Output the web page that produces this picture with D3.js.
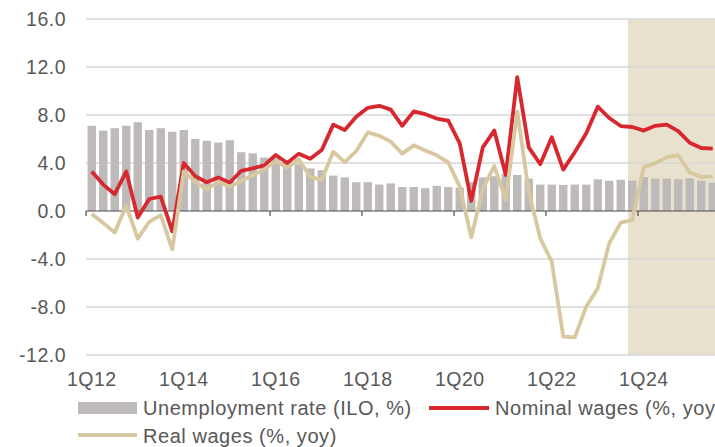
<!DOCTYPE html>
<html><head><meta charset="utf-8">
<script src="https://cdn.jsdelivr.net/npm/d3@7"></script>
<style>body{margin:0;background:#fff}svg{display:block;font-family:"Liberation Sans",Arial,sans-serif}</style>
</head><body><svg id="c" width="715" height="447"></svg>
<script>
const quarters = ["1Q12","2Q12","3Q12","4Q12","1Q13","2Q13","3Q13","4Q13","1Q14","2Q14","3Q14","4Q14",
"1Q15","2Q15","3Q15","4Q15","1Q16","2Q16","3Q16","4Q16","1Q17","2Q17","3Q17","4Q17",
"1Q18","2Q18","3Q18","4Q18","1Q19","2Q19","3Q19","4Q19","1Q20","2Q20","3Q20","4Q20",
"1Q21","2Q21","3Q21","4Q21","1Q22","2Q22","3Q22","4Q22","1Q23","2Q23","3Q23","4Q23",
"1Q24","2Q24","3Q24","4Q24","1Q25","2Q25","3Q25"];
const unemployment = [7.1,6.7,6.9,7.1,7.4,6.75,6.9,6.6,6.75,6.0,5.85,5.7,
5.9,4.9,4.8,4.45,4.4,4.1,3.9,3.55,3.4,2.95,2.8,2.4,
2.4,2.2,2.3,2.0,2.0,1.9,2.1,2.0,1.95,2.4,2.8,2.9,
3.1,3.0,2.7,2.2,2.2,2.17,2.2,2.2,2.64,2.52,2.6,2.53,
2.83,2.7,2.7,2.65,2.73,2.53,2.36];
const nominalWages = [3.3,2.2,1.4,3.3,-0.55,1.0,1.2,-1.7,4.0,2.9,2.4,2.8,
2.35,3.35,3.55,3.8,4.67,4.0,4.78,4.36,5.08,7.2,6.75,7.86,
8.6,8.77,8.45,7.1,8.3,8.07,7.7,7.53,5.64,0.85,5.3,6.7,
3.0,11.15,5.3,3.9,6.15,3.45,4.9,6.47,8.69,7.75,7.08,7.0,
6.7,7.1,7.2,6.65,5.69,5.25,5.2];
const realWages = [-0.25,-1.0,-1.8,0.45,-2.3,-0.9,-0.35,-3.2,3.3,2.44,1.8,2.44,
2.03,2.5,3.0,3.45,4.15,3.6,4.3,2.85,2.6,4.94,4.08,5.0,
6.55,6.27,5.78,4.78,5.47,5.05,4.64,4.05,2.03,-2.2,1.8,3.75,
0.95,8.28,1.6,-2.28,-4.22,-10.47,-10.53,-7.97,-6.44,-2.69,-0.97,-0.75,
3.67,3.97,4.48,4.64,3.2,2.83,2.91];
const tickLabels = ["1Q12","1Q14","1Q16","1Q18","1Q20","1Q22","1Q24"];
const yTicks = [16,12,8,4,0,-4,-8,-12];
const forecastStart = "4Q23";
const legendLabels = ["Unemployment rate (ILO, %)","Nominal wages (%, yoy)","Real wages (%, yoy)"];

const colBar = "#bfbaba", colRed = "#d7282f", colBeige = "#d7c8a0", colShade = "#e8e1cd",
      colGrid = "#d6d6d6", colText = "#585858";

const svg = d3.select("#c");
const x = d3.scaleBand().domain(quarters).range([86, 86 + 11.5 * quarters.length])
  .paddingInner(0.27).paddingOuter(0.135);
const y = d3.scaleLinear().domain([-12, 16]).range([355, 19]);
const step = x.step();
const bw = x.bandwidth();
const cx = q => x(q) + bw / 2;
const fmt = d => d3.format(".1f")(d).replace("\u2212", "-");

// forecast shade
svg.append("rect").attr("x", x(forecastStart)).attr("y", y(16))
  .attr("width", 715 - x(forecastStart)).attr("height", y(-12) - y(16)).attr("fill", colShade);

// grid
svg.append("g").selectAll("line").data(yTicks.filter(d => d !== 0)).join("line")
  .attr("x1", 86).attr("x2", 715).attr("y1", d => y(d)).attr("y2", d => y(d))
  .attr("stroke", colGrid).attr("stroke-width", 1.5);

// y labels
svg.append("g").selectAll("text").data(yTicks).join("text")
  .attr("x", 66).attr("y", d => y(d) + 7).attr("text-anchor", "end")
  .attr("font-size", 19.5).attr("letter-spacing", 0.5).attr("fill", colText)
  .text(fmt);

// bars
svg.append("g").selectAll("rect").data(quarters).join("rect")
  .attr("x", d => x(d)).attr("width", bw)
  .attr("y", (d, i) => y(unemployment[i])).attr("height", (d, i) => y(0) - y(unemployment[i]))
  .attr("fill", colBar);

// zero axis
svg.append("line").attr("x1", 86).attr("x2", 715).attr("y1", y(0)).attr("y2", y(0))
  .attr("stroke", "#4a4a4a").attr("stroke-width", 1.2);
svg.append("g").selectAll("line").data(tickLabels).join("line")
  .attr("x1", d => x(d) - step * 0.135).attr("x2", d => x(d) - step * 0.135)
  .attr("y1", y(0)).attr("y2", y(0) + 5).attr("stroke", "#4a4a4a").attr("stroke-width", 1.2);

// lines
const line = arr => d3.line().x((d, i) => cx(quarters[i])).y(d => y(d))(arr);
svg.append("path").attr("d", line(nominalWages)).attr("fill", "none")
  .attr("stroke", colRed).attr("stroke-width", 3.8).attr("stroke-linejoin", "round");
svg.append("path").attr("d", line(realWages)).attr("fill", "none")
  .attr("stroke", colBeige).attr("stroke-width", 3.8).attr("stroke-linejoin", "round");

// x labels
svg.append("g").selectAll("text").data(tickLabels).join("text")
  .attr("x", d => cx(d)).attr("y", 386).attr("text-anchor", "middle")
  .attr("font-size", 19.5).attr("letter-spacing", 0.5).attr("fill", colText).text(d => d);

// legend
const lg = svg.append("g").attr("font-size", 20).attr("letter-spacing", 0.55).attr("fill", colText);
lg.append("rect").attr("x", 78).attr("y", 402).attr("width", 59).attr("height", 12).attr("fill", colBar);
lg.append("text").attr("x", 143).attr("y", 415).text(legendLabels[0]);
lg.append("line").attr("x1", 429).attr("x2", 489).attr("y1", 408).attr("y2", 408)
  .attr("stroke", colRed).attr("stroke-width", 4);
lg.append("text").attr("x", 495).attr("y", 415).text(legendLabels[1]);
lg.append("line").attr("x1", 78).attr("x2", 137).attr("y1", 435).attr("y2", 435)
  .attr("stroke", colBeige).attr("stroke-width", 4);
lg.append("text").attr("x", 143).attr("y", 443).text(legendLabels[2]);
</script></body></html>
